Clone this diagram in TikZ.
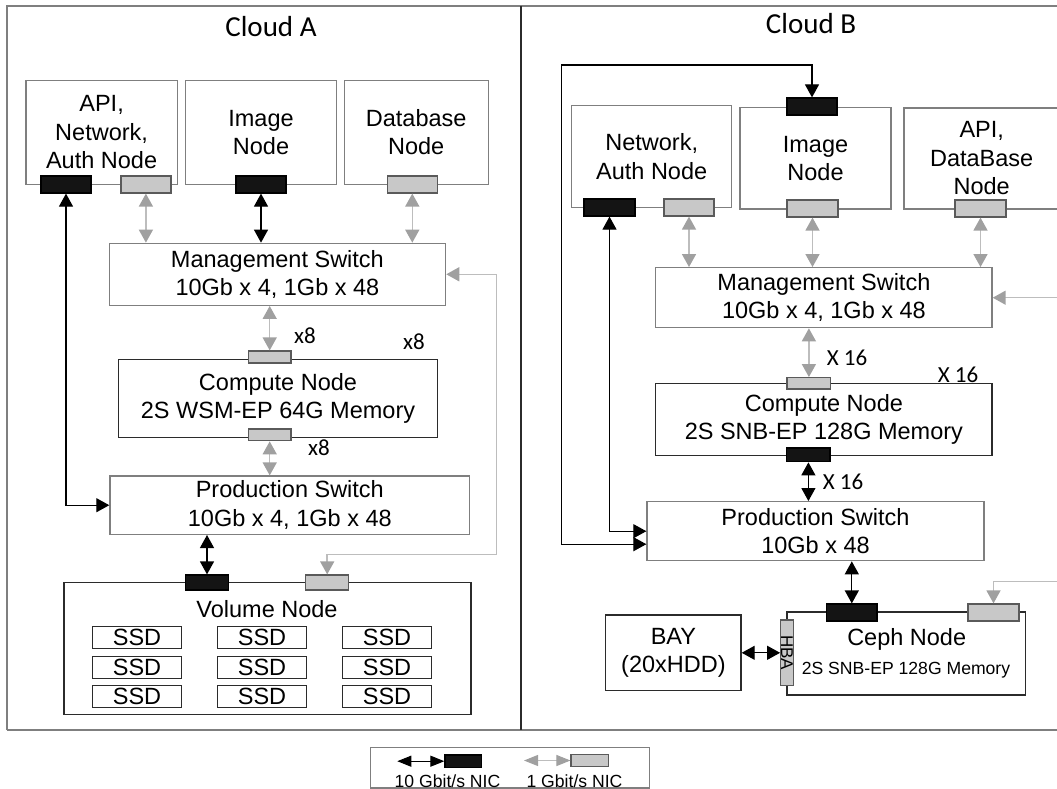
\documentclass[tikz,border=0pt]{standalone}
\usepackage{fontspec}
\setmainfont{Liberation Sans}
\newfontfamily\cloudfont{Carlito}
\usepackage{xcolor}
\usepackage{tikz}
\usetikzlibrary{arrows.meta,calc}

\definecolor{nicblack}{HTML}{141414}
\definecolor{nicgray}{HTML}{C8C8C8}
\definecolor{nicedge}{HTML}{5A5A5A}
\definecolor{linkgray}{HTML}{BDBDBD}
\definecolor{tipgray}{HTML}{A0A0A0}
\definecolor{boxgray}{HTML}{7F7F7F}
\definecolor{boxdark}{HTML}{2B2B2B}

\newcommand{\diagfont}{\fontsize{23.5}{28.5}\selectfont}
\newcommand{\legfont}{\fontsize{17.6}{20}\selectfont}
\newcommand{\countfont}{\cloudfont\fontsize{23}{26}\selectfont}

\begin{document}
\begin{tikzpicture}[x=1pt, y=-1pt,
  graybox/.style={draw=boxgray, line width=1.3pt, fill=white, inner sep=0pt, align=center, font=\diagfont},
  darkbox/.style={graybox, draw=boxdark},
  ssd/.style={darkbox, line width=1.2pt, minimum width=89.5pt, minimum height=22pt},
  nic10/.style={draw=black, line width=1.2pt, fill=nicblack, inner sep=0pt, minimum width=50pt, minimum height=17pt},
  nic1/.style={draw=nicedge, line width=1.2pt, fill=nicgray, inner sep=0pt, minimum width=50pt, minimum height=17pt},
  link10/.style={draw=black, line width=1.2pt, {Triangle[length=13pt,width=14pt]}-{Triangle[length=13pt,width=14pt]}},
  link1/.style={draw=linkgray, line width=1.5pt, {Triangle[length=13pt,width=14pt,color=tipgray]}-{Triangle[length=13pt,width=14pt,color=tipgray]}},
  link1to/.style={draw=linkgray, line width=1.5pt, -{Triangle[length=13pt,width=14pt,color=tipgray]}},
  leg10/.style={draw=black, line width=1pt, {Triangle[length=14pt,width=11pt]}-{Triangle[length=14pt,width=11pt]}},
  leg1/.style={draw=linkgray, line width=1pt, {Triangle[length=14pt,width=11pt,color=tipgray]}-{Triangle[length=14pt,width=11pt,color=tipgray]}},
  txt/.style={font=\diagfont, inner sep=0pt},
  count/.style={font=\countfont, inner sep=0pt},
  title/.style={font=\cloudfont\fontsize{29}{32}\selectfont, inner sep=0pt}]
  \useasboundingbox (0,0) rectangle (1057,789);

  % Frame round both clouds
  \draw[boxgray, line width=1.3pt] (7,730) -- (7,6) -- (1057,6);
  \draw[boxgray, line width=1.3pt] (7,730) -- (1057,730);
  \draw[boxdark, line width=1.3pt] (521,6) -- (521,730);

  % ---------------- Cloud A ----------------
  \node[title] (title_a) at (271,26.4) {Cloud A};

  % Top row of service nodes
  \node[graybox, minimum width=151.2pt, minimum height=103.7pt] (api_a) at (101.6,132.3) {API,\\Network,\\Auth Node};
  \node[graybox, minimum width=151.4pt, minimum height=103.7pt] (image_a) at (261,132.3) {Image\\Node};
  \node[graybox, minimum width=144pt, minimum height=103.7pt] (db_a) at (416.2,132.3) {Database\\Node};
  \node[nic10] (api_a10) at (66,184.5) {};
  \node[nic1] (api_a1) at (145.9,184.5) {};
  \node[nic10] (image_a10) at (261,184.5) {};
  \node[nic1] (db_a1) at (412.3,184.5) {};

  % Management switch
  \node[graybox, minimum width=336.4pt, minimum height=62pt] (mgmt_a) at (277.4,274.3) {Management Switch\\10Gb x 4, 1Gb x 48};
  \draw[link1] (api_a1.south) -- (api_a1.south |- mgmt_a.north);
  \draw[link10] (image_a10.south) -- (image_a10.south |- mgmt_a.north);
  \draw[link1] (db_a1.south) -- (db_a1.south |- mgmt_a.north);

  % Compute node
  \node[darkbox, minimum width=319.4pt, minimum height=78pt] (compute_a) at (278,398.3) {Compute Node\\2S WSM-EP 64G Memory};
  \node[nic1, minimum width=42.7pt, minimum height=12pt] (compute_a_top) at (269.7,357) {};
  \node[nic1, minimum width=42.7pt, minimum height=11.7pt] (compute_a_bot) at (269.7,434.9) {};
  \draw[link1] (compute_a_top.north) -- (compute_a_top.north |- mgmt_a.south);
  \node[count] (x8_top) at (305,336) {x8};
  \node[count] (x8_right) at (414,341.7) {x8};
  \node[count] (x8_bot) at (319,447.3) {x8};

  % Production switch
  \node[graybox, minimum width=359.7pt, minimum height=58.3pt] (prod_a) at (289.8,505.2) {Production Switch\\10Gb x 4, 1Gb x 48};
  \draw[link1] (compute_a_bot.south) -- (compute_a_bot.south |- prod_a.north);
  \draw[link10] (api_a10.south) |- (prod_a.west);

  % Volume node with its SSDs
  \node[darkbox, minimum width=407pt, minimum height=131.8pt] (volume_a) at (267.5,648.6) {};
  \node[txt] (volume_label) at (267,609) {Volume Node};
  \foreach \col/\cx in {1/137,2/262,3/387}
    \foreach \row/\cy in {1/637.7,2/667.5,3/696.8}
      \node[ssd] (ssd_\row\col) at (\cx,\cy) {SSD};
  \node[nic10, minimum width=43.4pt, minimum height=15pt] (volume_a10) at (207,582.5) {};
  \node[nic1, minimum width=43pt, minimum height=15pt] (volume_a1) at (327.2,582.5) {};
  \draw[link10] (volume_a10.north) -- (volume_a10.north |- prod_a.south);
  \coordinate (bend_a) at (496.7,554.3);
  \draw[link1] (mgmt_a.east) -| (bend_a) -| (volume_a1.north);

  % ---------------- Cloud B ----------------
  \node[title] (title_b) at (811,23.3) {Cloud B};

  % Top row of service nodes
  \node[graybox, minimum width=160pt, minimum height=102pt] (net_b) at (651.7,156.7) {Network,\\Auth Node};
  \node[graybox, minimum width=151pt, minimum height=101.3pt] (image_b) at (815.5,158.3) {Image\\Node};
  \node[graybox, minimum width=155.4pt, minimum height=101pt] (api_b) at (981.7,158.5) {API,\\DataBase\\Node};
  \node[nic10, minimum width=51pt] (net_b10) at (609.5,207.5) {};
  \node[nic1] (net_b1) at (689,207.5) {};
  \node[nic10] (image_b10) at (812,106.5) {};
  \node[nic1, minimum width=51pt] (image_b1) at (812.5,208.5) {};
  \node[nic1, minimum width=51pt] (api_b1) at (980.5,208.5) {};

  % Management switch
  \node[graybox, minimum width=336.3pt, minimum height=60pt] (mgmt_b) at (823.9,297.7) {Management Switch\\10Gb x 4, 1Gb x 48};
  \draw[link1] (net_b1.south) -- (net_b1.south |- mgmt_b.north);
  \draw[link1] (image_b1.south) -- (image_b1.south |- mgmt_b.north);
  \draw[link1] (api_b1.south) -- (api_b1.south |- mgmt_b.north);
  \coordinate (edge_mgmt_b) at (1057,297.7);
  \draw[link1to] (edge_mgmt_b) -- (mgmt_b.east);

  % Compute node
  \node[darkbox, minimum width=336.3pt, minimum height=72.4pt] (compute_b) at (823.9,419.5) {Compute Node\\2S SNB-EP 128G Memory};
  \node[nic1, minimum width=43.7pt, minimum height=11.3pt] (compute_b_top) at (808.9,383.3) {};
  \node[nic10, minimum width=43.3pt, minimum height=13.7pt] (compute_b_bot) at (808.4,454.9) {};
  \draw[link1] (compute_b_top.north) -- (compute_b_top.north |- mgmt_b.south);
  \node[count] (x16_top) at (847,358) {X 16};
  \node[count] (x16_right) at (958,375) {X 16};
  \node[count] (x16_bot) at (843,481.7) {X 16};

  % Production switch
  \node[graybox, minimum width=337pt, minimum height=59pt] (prod_b) at (815.5,531.2) {Production Switch\\10Gb x 48};
  \draw[link10] (compute_b_bot.south) -- (compute_b_bot.south |- prod_b.north);
  \draw[link10] (net_b10.south) |- (prod_b.west);
  \coordinate (loop_b) at (561.7,65);
  \draw[link10] (image_b10.north) |- (loop_b) |- ($(prod_b.west)+(0,13)$);

  % Ceph node, HBA and disk bay
  \node[darkbox, minimum width=238.7pt, minimum height=83pt] (ceph_b) at (906.4,653.5) {};
  \node[txt] (ceph_name) at (906.7,639) {Ceph Node};
  \node[txt, font=\legfont] (ceph_cpu) at (906,670) {2S SNB-EP 128G Memory};
  \node[nic10, minimum width=50.3pt] (ceph_b10) at (851.8,612.5) {};
  \node[nic1, minimum width=51pt] (ceph_b1) at (993.5,612.5) {};
  \draw[link10] (ceph_b10.north) -- (ceph_b10.north |- prod_b.south);
  \coordinate (edge_ceph_b) at (1057,581.7);
  \draw[link1to] (edge_ceph_b) -| (ceph_b1.north);
  \node[nic1, rotate=-90, minimum width=65.7pt, minimum height=12.6pt, font=\fontsize{17}{17}\selectfont] (hba_b) at (787,652.8) {HBA};
  \node[darkbox, minimum width=135.3pt, minimum height=75.7pt] (bay_b) at (673.4,652.8) {BAY\\(20xHDD)};
  \draw[link10] (bay_b.east) -- (hba_b.south);

  % ---------------- Legend ----------------
  \node[draw=boxgray, line width=1.3pt, minimum width=278.6pt, minimum height=40.7pt, inner sep=0pt] (legend) at (510,767.6) {};
  \node[nic10, minimum width=36.7pt, minimum height=12.3pt] (legend10) at (463.3,761.2) {};
  \node[nic1, minimum width=37.3pt, minimum height=11.7pt] (legend1) at (589.7,760.5) {};
  \coordinate (legend10_from) at (397.3,761.2);
  \coordinate (legend1_from) at (524,760.5);
  \draw[leg10] (legend10_from) -- (legend10.west);
  \draw[leg1] (legend1_from) -- (legend1.west);
  \node[font=\legfont, anchor=base, inner sep=0pt] (legend10_text) at (447.5,787) {10 Gbit/s NIC};
  \node[font=\legfont, anchor=base, inner sep=0pt] (legend1_text) at (574.5,787) {1 Gbit/s NIC};
\end{tikzpicture}
\end{document}
